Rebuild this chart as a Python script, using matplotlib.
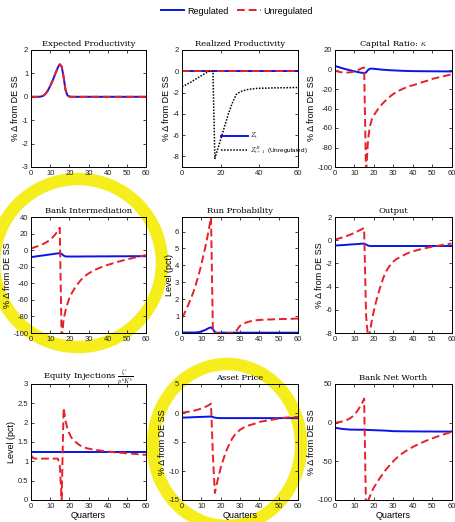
import numpy as np
import matplotlib
matplotlib.use('Agg')
import matplotlib.pyplot as plt
from matplotlib.patches import Ellipse

plt.rcParams['font.family'] = ['Liberation Sans', 'DejaVu Sans']
plt.rcParams['axes.unicode_minus'] = False
plt.rcParams['mathtext.fontset'] = 'cm'

W, H = 455, 522

quarters = list(range(61))

# expected productivity (same for both regimes)
exp_prod = [0, 0, 0, 0, 0, 0.01, 0.03, 0.08, 0.17, 0.3, 0.46, 0.64, 0.84, 1.05, 1.25, 1.39,
            1.3, 0.85, 0.3, 0.06, 0.01] + [0] * 40

# realized productivity
real_reg = [0.0] * 61
real_unreg = [0.0] * 61
real_bad = [-1.45, -1.37, -1.28, -1.18, -1.08, -0.97, -0.86, -0.75, -0.64, -0.53, -0.42,
            -0.31, -0.2, -0.1, -0.02, 0.05, 0.0, -8.2, -7.6, -7.0, -6.4, -5.8, -5.2, -4.6,
            -4.0, -3.5, -3.0, -2.6, -2.2, -2.05, -1.95, -1.87, -1.81, -1.76, -1.72, -1.69,
            -1.66, -1.64, -1.62, -1.61, -1.6, -1.6, -1.59, -1.59, -1.58, -1.58, -1.57, -1.57,
            -1.56, -1.56, -1.56, -1.55, -1.55, -1.55, -1.54, -1.54, -1.54, -1.53, -1.53,
            -1.53, -1.52]

# capital ratio
cap_reg = [3.5, 3.0, 2.4, 1.8, 1.2, 0.6, 0.1, -0.4, -0.9, -1.4, -1.9, -2.3, -2.7, -3.1,
           -3.4, -3.8, -3.0, -0.5, 0.8, 0.9, 0.7, 0.5, 0.3, 0.1, -0.1, -0.3, -0.4, -0.6,
           -0.7, -0.8, -0.9, -1.0, -1.1, -1.2, -1.3, -1.35, -1.4, -1.5, -1.55, -1.6, -1.65,
           -1.67, -1.7, -1.72, -1.74, -1.76, -1.78, -1.8, -1.82, -1.84, -1.85, -1.87, -1.88,
           -1.9, -1.91, -1.93, -1.94, -1.95, -1.97, -1.98, -2.0]
cap_unreg = [-1.0, -1.8, -2.4, -2.8, -3.0, -3.1, -3.1, -3.0, -2.8, -2.4, -1.9, -1.2, -0.4,
             0.5, 1.5, 2.0, -108, -72, -58, -51, -47, -44, -41, -38.5, -36, -34, -32, -30,
             -28.3, -26.7, -25.2, -24, -22.8, -21.7, -20.7, -19.8, -18.9, -18.1, -17.3,
             -16.6, -16.3, -15.6, -15.0, -14.3, -13.7, -13.0, -12.4, -11.8, -11.2, -10.4,
             -9.7, -9.2, -8.7, -8.3, -7.8, -7.3, -6.9, -6.4, -5.9, -5.5, -5.0]

# bank intermediation
int_reg = [-8.4, -8.1, -7.8, -7.4, -7.1, -6.8, -6.5, -6.2, -5.8, -5.5, -5.2, -4.9, -4.6,
           -4.2, -3.9, -3.6, -4.6, -6.6, -7.6, -7.7, -7.7, -7.7, -7.7, -7.7, -7.7, -7.7,
           -7.7, -7.6, -7.6, -7.6, -7.6, -7.6, -7.6, -7.6, -7.5, -7.5, -7.5, -7.5, -7.5,
           -7.5, -7.5, -7.5, -7.4, -7.4, -7.4, -7.4, -7.4, -7.4, -7.4, -7.4, -7.4, -7.3,
           -7.3, -7.3, -7.3, -7.3, -7.3, -7.3, -7.3, -7.3, -7.3]
int_unreg = [2.0, 2.8, 3.6, 4.4, 5.2, 6.1, 7.1, 8.2, 9.5, 11.0, 12.8, 14.8, 17.2, 20.0,
             23.3, 27.0, -110, -84, -73, -65, -58, -53, -49, -45.5, -42, -39, -36, -33.5,
             -31.5, -29.8, -28.2, -26.8, -25.5, -24.3, -23.2, -22.2, -21.2, -20.3, -19.4,
             -18.6, -17.8, -17.1, -16.4, -15.7, -15.0, -14.3, -13.7, -13.0, -12.4, -11.8,
             -11.2, -10.7, -10.1, -9.6, -9.0, -8.5, -7.9, -7.4, -6.9, -6.4, -5.9]

# run probability (level, pct)
run_reg = [0.03, 0.03, 0.03, 0.03, 0.03, 0.03, 0.03, 0.03, 0.04, 0.06, 0.09, 0.13, 0.18,
           0.24, 0.3, 0.33, 0.22, 0.06, 0.01] + [0.02] * 42
run_unreg = [0.9, 1.1, 1.35, 1.6, 1.87, 2.15, 2.45, 2.8, 3.2, 3.6, 4.05, 4.55, 5.05, 5.6,
             6.2, 6.85, 0.0, 0, 0, 0, 0, 0, 0, 0, 0, 0, 0, 0, 0.1, 0.28, 0.42, 0.5, 0.56,
             0.61, 0.65, 0.68, 0.71, 0.73, 0.75, 0.76, 0.77, 0.78, 0.78, 0.79, 0.79, 0.8,
             0.8, 0.81, 0.81, 0.82, 0.82, 0.82, 0.83, 0.83, 0.83, 0.84, 0.84, 0.84, 0.85,
             0.85, 0.85]

# output
out_reg = [-0.46, -0.45, -0.44, -0.43, -0.42, -0.41, -0.4, -0.38, -0.37, -0.36, -0.35,
           -0.34, -0.33, -0.31, -0.3, -0.29, -0.37, -0.46, -0.5, -0.51] + [-0.5] * 41
out_unreg = [0.06, 0.1, 0.15, 0.2, 0.25, 0.3, 0.36, 0.42, 0.49, 0.56, 0.64, 0.72, 0.8,
             0.88, 0.97, 1.05, -6.5, -8.4, -7.9, -6.9, -6.1, -5.4, -4.8, -4.2, -3.7, -3.2,
             -2.8, -2.5, -2.25, -2.05, -1.85, -1.7, -1.6, -1.5, -1.4, -1.32, -1.24, -1.16,
             -1.08, -1.02, -0.97, -0.92, -0.87, -0.83, -0.79, -0.75, -0.71, -0.67, -0.63,
             -0.6, -0.57, -0.54, -0.51, -0.48, -0.45, -0.42, -0.39, -0.36, -0.33, -0.31,
             -0.3]

# equity injections (level, pct)
eq_reg = [1.25] * 61
eq_unreg = [1.16, 1.09, 1.07, 1.07, 1.07, 1.07, 1.07, 1.07, 1.07, 1.07, 1.07, 1.07, 1.07,
            1.07, 1.07, 0.9, 0.0, 2.38, 2.05, 1.85, 1.72, 1.62, 1.56, 1.51, 1.47, 1.43,
            1.40, 1.38, 1.36, 1.34, 1.33, 1.32, 1.31, 1.3, 1.29, 1.29, 1.28, 1.27, 1.27,
            1.26, 1.25, 1.25, 1.24, 1.24, 1.23, 1.23, 1.22, 1.22, 1.22, 1.21, 1.21, 1.2,
            1.2, 1.2, 1.19, 1.19, 1.18, 1.18, 1.18, 1.17, 1.17]

# asset price
ap_reg = [-0.8, -0.79, -0.78, -0.76, -0.75, -0.74, -0.72, -0.71, -0.7, -0.68, -0.67,
          -0.66, -0.65, -0.63, -0.62, -0.6, -0.7, -0.8, -0.85, -0.86] + [-0.88] * 41
ap_unreg = [0.06, 0.1, 0.15, 0.2, 0.26, 0.32, 0.39, 0.47, 0.56, 0.66, 0.77, 0.9, 1.04,
            1.2, 1.4, 1.6, -7.5, -13.8, -12.2, -10.8, -9.5, -8.4, -7.4, -6.5, -5.7, -5.0,
            -4.4, -3.9, -3.5, -3.2, -2.9, -2.7, -2.5, -2.35, -2.2, -2.1, -2.0, -1.9, -1.8,
            -1.68, -1.55, -1.48, -1.42, -1.36, -1.3, -1.24, -1.18, -1.13, -1.08, -1.02,
            -0.95, -0.9, -0.86, -0.82, -0.79, -0.76, -0.74, -0.72, -0.7, -0.69, -0.68]

# bank net worth
nw_reg = [-6.5, -7.0, -7.4, -7.8, -8.1, -8.4, -8.6, -8.8, -9.0, -9.0, -9.0, -9.1, -9.1,
          -9.1, -9.2, -9.2, -9.3, -9.4, -9.5, -9.6, -9.7, -9.8, -9.9, -10.0, -10.1, -10.2,
          -10.3, -10.5, -10.6, -10.8, -11.0, -11.0, -11.1, -11.1, -11.1, -11.2, -11.2,
          -11.2, -11.2, -11.3, -11.3, -11.3, -11.3, -11.3, -11.4, -11.4, -11.4, -11.4,
          -11.4, -11.4, -11.4, -11.5, -11.5, -11.5, -11.5, -11.5, -11.5, -11.5, -11.5,
          -11.5, -11.5]
nw_unreg = [0, 0.3, 0.7, 1.2, 1.8, 2.6, 3.5, 4.6, 6.0, 8.0, 10.5, 13.5, 17, 21, 25.5, 31,
            -115, -101, -95, -89, -84, -80, -76, -72, -68.5, -65, -61.5, -58.5, -55.5,
            -52.5, -50, -47.5, -45, -43, -41, -39.2, -37.5, -35.8, -34.3, -32.9, -31.5,
            -30.2, -29, -27.8, -26.6, -25.5, -24.4, -23.3, -22.3, -21.3, -20.4, -19.5,
            -18.6, -17.7, -16.9, -16.0, -15.2, -14.4, -13.6, -12.8, -12.0]

titles = ['Expected Productivity', 'Realized Productivity', r'Capital Ratio: $\kappa$',
          'Bank Intermediation', 'Run Probability', 'Output',
          r'Equity Injections $\frac{\xi^e}{p^k K^b}$', 'Asset Price', 'Bank Net Worth']
ylabels = ['% \u0394 from DE SS', '% \u0394 from DE SS', '% \u0394 from DE SS',
           '% \u0394 from DE SS', 'Level (pct)', '% \u0394 from DE SS',
           'Level (pct)', '% \u0394 from DE SS', '% \u0394 from DE SS']
reg_series = [exp_prod, real_reg, cap_reg, int_reg, run_reg, out_reg, eq_reg, ap_reg, nw_reg]
unreg_series = [exp_prod, real_unreg, cap_unreg, int_unreg, run_unreg, out_unreg,
                eq_unreg, ap_unreg, nw_unreg]
ylims = [(-3, 2), (-9, 2), (-100, 20), (-100, 40), (0, 6.86), (-8, 2), (0, 3), (-15, 5),
         (-100, 50)]
yticks = [np.arange(-3, 3, 1), np.arange(-8, 3, 2), np.arange(-100, 21, 20),
          np.arange(-100, 41, 20), np.arange(0, 7, 1), np.arange(-8, 3, 2),
          np.arange(0, 3.01, 0.5), np.arange(-15, 6, 5), np.arange(-100, 51, 50)]

# pixel boxes of the axes (left, right, top, bottom)
cols = [(31, 146), (182, 298), (335, 451.5)]
rows = [(50, 167), (217, 333), (384, 500)]

BLUE = '#0a14e6'
RED = '#e8202a'

fig = plt.figure(figsize=(W / 100, H / 100), dpi=100)
fig.patch.set_facecolor('white')

axes = []
for i in range(9):
    l, r = cols[i % 3]
    t, b = rows[i // 3]
    ax = fig.add_axes([l / W, 1 - b / H, (r - l) / W, (b - t) / H])
    ax.set_facecolor('none')
    axes.append(ax)
    lb, = ax.plot(quarters, reg_series[i], color=BLUE, lw=1.4, label='Regulated')
    lr, = ax.plot(quarters, unreg_series[i], color=RED, lw=1.4, dashes=(4, 2),
                  label='Unregulated')
    if i == 1:
        lb.set_label(r'$Z_t$')
        ax.plot(quarters, real_bad, color='black', lw=1.1, ls=(0, (1, 1)),
                label=r'$Z^{B}_{t+1}$  (Unregulated)')
        ax.legend(handles=[lb, ax.lines[-1]], loc='lower left', bbox_to_anchor=(0.3, 0.06),
                  frameon=False, fontsize=4.6, handlelength=4.2, labelspacing=0.5,
                  handletextpad=0.3, borderpad=0.2)
        ax.set_xticks([0, 20, 40, 60])
    else:
        ax.set_xticks(np.arange(0, 61, 10))
    ax.set_xlim(0, 60)
    ax.set_ylim(*ylims[i])
    ax.set_yticks(yticks[i])
    if i == 6:
        ax.set_yticklabels(['0', '0.5', '1', '1.5', '2', '2.5', '3'])
    ax.tick_params(direction='in', top=True, right=True, length=2.5, width=0.6,
                   labelsize=5.5, pad=2, colors='#222222')
    for sp in ax.spines.values():
        sp.set_linewidth(0.7)
    ax.set_title(titles[i], fontsize=6, family='DejaVu Serif', pad=3)
    ax.set_ylabel(ylabels[i], fontsize=6.5, labelpad=1)
    if i >= 6:
        ax.set_xlabel('Quarters', fontsize=6.5, labelpad=1)

h1, = axes[0].plot([], [], color=BLUE, lw=1.4)
h2, = axes[0].plot([], [], color=RED, lw=1.4, dashes=(4, 2))
fig.legend([h1, h2], ['Regulated', 'Unregulated'], loc='center',
           bbox_to_anchor=(237 / W, 1 - 11 / H), ncol=2, frameon=False, fontsize=6.5,
           handlelength=2.6, handletextpad=0.3, columnspacing=1.0)

# yellow highlighter loops drawn over the page
hl = '#f6ee1c'
fig.patches.append(Ellipse((78 / W, 1 - 263 / H), 168 / W, 168 / H, fill=False,
                           edgecolor=hl, lw=9, transform=fig.transFigure, zorder=-1))
fig.patches.append(Ellipse((227 / W, 1 - 445 / H), 148 / W, 162 / H, fill=False,
                           edgecolor=hl, lw=9, transform=fig.transFigure, zorder=-1))

fig.savefig('out.png', dpi=100)
